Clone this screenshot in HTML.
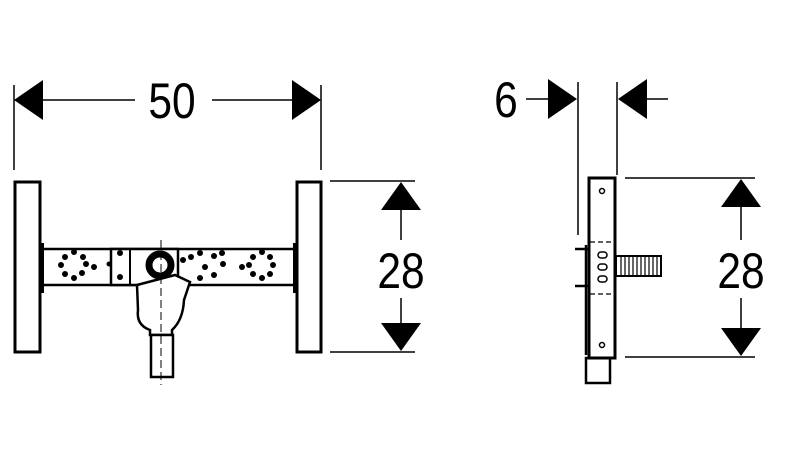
<!DOCTYPE html>
<html><head><style>body{margin:0;background:#fff}svg{display:block}text{font-family:"Liberation Sans",sans-serif;font-size:50px}</style></head><body>
<svg width="800" height="465" viewBox="0 0 800 465" xmlns="http://www.w3.org/2000/svg">
<g stroke="#000" stroke-width="1.5" fill="none">
<!-- 50 dimension -->
<line x1="14" y1="85" x2="14" y2="170"/><line x1="321" y1="85" x2="321" y2="170"/>
<line x1="40" y1="100" x2="135" y2="100"/><line x1="212" y1="100" x2="296" y2="100"/>
<!-- 6 dimension -->
<line x1="578" y1="82" x2="578" y2="235"/><line x1="617" y1="82" x2="617" y2="175"/>
<line x1="526" y1="99" x2="552" y2="99"/><line x1="640" y1="99" x2="668" y2="99"/>
<!-- left 28 -->
<line x1="330" y1="181" x2="415" y2="181"/><line x1="330" y1="352" x2="415" y2="352"/>
<line x1="401" y1="205" x2="401" y2="240"/><line x1="401" y1="298" x2="401" y2="330"/>
<!-- right 28 -->
<line x1="625" y1="178" x2="755" y2="178"/><line x1="625" y1="357" x2="755" y2="357"/>
<line x1="741" y1="205" x2="741" y2="240"/><line x1="741" y1="298" x2="741" y2="335"/>
</g>
<g fill="#000">
<polygon points="14,100 43,80 43,120"/><polygon points="321,100 292,80 292,120"/>
<polygon points="577,99 548,79 548,119"/><polygon points="618,99 647,79 647,119"/>
<polygon points="401,182 381,210 421,210"/><polygon points="401,351 381,323 421,323"/>
<polygon points="741,179 721,207 761,207"/><polygon points="741,356 721,328 761,328"/>
</g>
<text x="172" y="118" text-anchor="middle" transform="translate(172 0) scale(0.85 1) translate(-172 0)">50</text>
<text x="506" y="117" text-anchor="middle" transform="translate(506 0) scale(0.85 1) translate(-506 0)">6</text>
<text x="401" y="288" text-anchor="middle" transform="translate(401 0) scale(0.85 1) translate(-401 0)">28</text>
<text x="741" y="288" text-anchor="middle" transform="translate(741 0) scale(0.85 1) translate(-741 0)">28</text>
<!-- front view -->
<g stroke="#000" stroke-width="3" fill="#fff">
<rect x="15" y="182" width="25" height="170"/>
<rect x="297" y="182" width="24" height="170"/>
<rect x="42" y="249" width="254" height="36" stroke-width="2.5"/>
<rect x="111" y="249" width="67" height="36" stroke-width="2.5"/>
<path d="M137 285 L138 310 Q136 325 150 330 L150 335 L172 335 L172 330 Q183 320 184 300 L190 282 L175 275 Z" stroke-width="2.5"/>
<rect x="151" y="335" width="22" height="42" stroke-width="2.5"/>
<circle cx="160" cy="265" r="11" stroke-width="7"/>
</g>
<line x1="130" y1="250" x2="130" y2="284" stroke="#000" stroke-width="2"/>
<line x1="161" y1="240" x2="161" y2="385" stroke="#000" stroke-width="1" stroke-dasharray="8,4"/>
<g fill="#000">
<circle cx="74" cy="252" r="3"/><circle cx="65" cy="257" r="3"/><circle cx="61" cy="265" r="3"/><circle cx="65" cy="274" r="3"/><circle cx="74" cy="278" r="3"/><circle cx="83" cy="257" r="3"/><circle cx="86" cy="264" r="3"/><circle cx="94" cy="267" r="3"/><circle cx="82" cy="273" r="3"/>
<circle cx="120" cy="253" r="3"/><circle cx="120" cy="277" r="3"/><circle cx="109" cy="264" r="2.5"/>
<circle cx="183" cy="260" r="3"/><circle cx="191" cy="257" r="3"/><circle cx="200" cy="253" r="3"/><circle cx="205" cy="267" r="3"/><circle cx="200" cy="278" r="3"/><circle cx="214" cy="275" r="3"/><circle cx="223" cy="264" r="3"/><circle cx="214" cy="256" r="3"/><circle cx="222" cy="253" r="3"/>
<circle cx="262" cy="252" r="3"/><circle cx="253" cy="257" r="3"/><circle cx="249" cy="265" r="3"/><circle cx="242" cy="267" r="3"/><circle cx="253" cy="274" r="3"/><circle cx="262" cy="278" r="3"/><circle cx="270" cy="257" r="3"/><circle cx="273" cy="265" r="3"/><circle cx="270" cy="274" r="3"/>
<rect x="40" y="243" width="4" height="50"/><rect x="293" y="243" width="4" height="50"/>
</g>
<!-- side view -->
<g stroke="#000" stroke-width="2.5" fill="#fff">
<rect x="586" y="358" width="24" height="25"/>
<rect x="589" y="178" width="26" height="180" stroke-width="3"/>
<rect x="616" y="256" width="45" height="20" stroke-width="2"/>
<line x1="586" y1="245" x2="586" y2="355"/>
</g>
<g stroke="#000" stroke-width="1.2">
<line x1="621" y1="257" x2="621" y2="276"/><line x1="625" y1="257" x2="625" y2="276"/><line x1="629" y1="257" x2="629" y2="276"/><line x1="633" y1="257" x2="633" y2="276"/><line x1="637" y1="257" x2="637" y2="276"/><line x1="641" y1="257" x2="641" y2="276"/><line x1="645" y1="257" x2="645" y2="276"/><line x1="649" y1="257" x2="649" y2="276"/><line x1="653" y1="257" x2="653" y2="276"/><line x1="657" y1="257" x2="657" y2="276"/>
<line x1="575" y1="249" x2="589" y2="249" stroke-width="2.5"/><line x1="575" y1="286" x2="589" y2="286" stroke-width="2.5"/>
<line x1="590" y1="242" x2="614" y2="242" stroke-dasharray="5,3"/><line x1="590" y1="294" x2="614" y2="294" stroke-dasharray="5,3"/>
</g>
<g stroke="#000" stroke-width="1.5" fill="none">
<circle cx="602" cy="191" r="2.5"/><circle cx="602" cy="345" r="2.5"/>
<rect x="598" y="252" width="9" height="6" rx="3"/><rect x="598" y="264" width="9" height="6" rx="3"/><rect x="598" y="276" width="9" height="6" rx="3"/>
</g>
</svg>
</body></html>
